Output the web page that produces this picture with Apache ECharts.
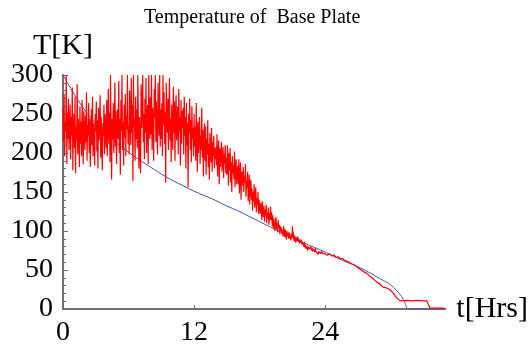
<!DOCTYPE html>
<html>
<head>
<meta charset="utf-8">
<script src="https://cdn.jsdelivr.net/npm/echarts@6/dist/echarts.min.js"></script>
<style>
html,body{margin:0;padding:0;background:#fff;}
#c{width:531px;height:349px;}
</style>
</head>
<body>
<div id="c"></div>
<script>
// ---- data ----
const titleText = "Temperature of  Base Plate";
const xName = "t[Hrs]";
const yName = "T[K]";
const xTicks = [0, 12, 24];
const yTicks = [0, 50, 100, 150, 200, 250, 300];

// model curve (blue): times and temperatures
const modelT = [0, 1, 2, 3, 4, 5, 6, 7, 8, 9, 10, 11, 12, 13, 14, 15, 16, 17, 18, 19, 20, 21, 22, 23, 24, 25, 26, 27, 28, 29, 30, 30.5, 31, 31.3, 31.6, 35];
const modelK = [300, 276, 255, 238, 224, 212, 201, 191, 182, 173, 165, 158, 151, 145, 139, 132, 126, 119, 112, 105, 98, 91, 85, 79, 73, 66, 60, 54, 47, 39, 31, 24, 16, 8, 0, 0];

// measured (red), noisy part sampled every 0.05 h from t = 0 (one row per hour)
const measStep = 0.05;
const measNoisy = [
  258, 214, 276, 196, 240, 228, 300, 186, 252, 218, 270, 204, 236, 262, 192, 246, 222, 284, 178, 232,
  250, 206, 272, 174, 234, 216, 288, 198, 244, 226, 182, 260, 212, 240, 196, 268, 220, 186, 254, 230,
  204, 248, 214, 278, 190, 236, 222, 264, 200, 244, 182, 226, 256, 210, 272, 196, 238, 218, 184, 250,
  228, 266, 202, 242, 180, 258, 216, 234, 274, 194, 246, 210, 178, 238, 222, 262, 198, 250, 230, 206,
  268, 196, 240, 282, 212, 252, 188, 300, 228, 166, 244, 218, 264, 200, 236, 290, 208, 254, 186, 232,
  256, 218, 292, 200, 244, 172, 268, 228, 300, 204, 240, 184, 262, 220, 276, 196, 248, 230, 300, 212,
  236, 198, 280, 252, 210, 296, 226, 262, 164, 300, 232, 244, 190, 272, 218, 256, 206, 300, 238, 180,
  246, 208, 174, 288, 232, 258, 300, 214, 250, 192, 270, 226, 296, 200, 244, 262, 186, 300, 234, 218,
  272, 224, 300, 204, 258, 240, 190, 282, 246, 300, 214, 266, 232, 198, 290, 250, 222, 300, 208, 256,
  218, 264, 196, 300, 236, 278, 212, 252, 162, 290, 240, 226, 270, 204, 258, 296, 216, 244, 188, 262,
  240, 204, 285, 226, 266, 190, 250, 274, 216, 236, 260, 198, 282, 228, 246, 184, 268, 212, 254, 232,
  258, 198, 272, 222, 246, 180, 264, 210, 238, 156, 250, 226, 270, 204, 242, 188, 260, 218, 232, 196,
  250, 208, 234, 190, 264, 214, 176, 240, 200, 228, 246, 186, 222, 204, 258, 194, 230, 170, 216, 238,
  190, 234, 172, 218, 198, 242, 182, 212, 166, 226, 204, 188, 232, 176, 214, 196, 222, 180, 206, 192,
  208, 184, 224, 170, 200, 216, 160, 206, 182, 196, 214, 176, 192, 208, 168, 198, 186, 210, 174, 194,
  172, 210, 188, 158, 200, 178, 206, 162, 188, 150, 196, 174, 184, 166, 202, 156, 180, 192, 160, 176,
  184, 160, 192, 148, 174, 188, 140, 176, 158, 168, 182, 150, 170, 162, 186, 144, 164, 156, 176, 138,
  152, 172, 134, 160, 166, 140, 154, 126, 150, 138, 160, 130, 146, 156, 124, 142, 134, 150, 122, 140,
  142, 122, 136, 128, 114, 138, 124, 118, 132, 112, 128, 120, 134, 110, 124, 116, 130, 108, 122, 114,
  131, 114, 124, 106, 120, 104, 116, 108, 100, 112, 118, 102, 110, 98, 114, 104, 108, 96, 106, 100,
  104, 96, 101, 93, 106, 98, 92, 102, 95, 89, 100, 94, 97, 90, 99, 93, 95, 88, 96, 91,
  106, 92, 98, 87, 94, 90, 85, 92, 87, 89, 93, 86, 90, 84, 88, 85, 89, 83, 86, 84,
  84, 80, 86, 79, 82, 77, 81, 78, 75, 80, 82, 77, 79, 76, 80, 75, 78, 74, 77, 76,
  76, 73, 78, 74, 72, 75, 73, 70, 74, 72, 75, 71, 73, 70, 74, 71, 72, 69, 73, 71
];
// measured (red), smoother tail: times and temperatures
const measTailT = [24.0, 24.2, 24.4, 24.6, 24.8, 25.0, 25.2, 25.4, 25.6, 25.8, 26.0, 26.2, 26.4, 26.6, 26.8, 27.0, 27.2, 27.4, 27.6, 27.8, 28.0, 28.3, 28.6, 29.0, 29.3, 29.6, 29.9, 30.2, 30.5, 30.8, 31.0, 31.5, 32.0, 32.5, 33.0, 33.3, 33.5, 33.6, 34.2, 34.9];
const measTailK = [71, 69, 71, 68, 69, 66, 67, 64, 65, 62, 61, 60, 58, 57, 55, 53, 51, 49, 47, 46, 43, 40, 36, 32, 28, 27, 25, 21, 15, 11, 10.5, 11, 10.5, 11, 10.5, 10.5, 4, 1.3, 1.3, 1.3];

// ---- build ----
const modelData = modelT.map((t, i) => [t, modelK[i]]);
const measData = measNoisy.map((v, i) => [+(i * measStep).toFixed(2), v])
  .concat(measTailT.map((t, i) => [t, measTailK[i]]));

const serif = "'Liberation Serif', 'Times New Roman', serif";
const axisGray = '#707070';

const chart = echarts.init(document.getElementById('c'), null, {renderer: 'canvas'});
chart.setOption({
  animation: false,
  backgroundColor: '#ffffff',
  title: {
    text: titleText,
    left: 139, top: 3,
    textStyle: {fontFamily: serif, fontSize: 20, fontWeight: 'normal', color: '#000'}
  },
  grid: {left: 63, top: 75, width: 383, height: 234, containLabel: false},
  xAxis: {
    type: 'value', min: 0, max: 35, interval: 12,
    name: xName, nameLocation: 'end', nameGap: 11,
    nameTextStyle: {fontFamily: serif, fontSize: 30, color: '#000', verticalAlign: 'middle'},
    axisLine: {lineStyle: {color: axisGray, width: 2}},
    axisTick: {inside: true, length: 4, lineStyle: {color: axisGray}, customValues: xTicks},
    axisLabel: {fontFamily: serif, fontSize: 28, color: '#000', margin: 10, customValues: xTicks},
    splitLine: {show: false}
  },
  yAxis: {
    type: 'value', min: 0, max: 300, interval: 50,
    name: yName, nameLocation: 'end', nameGap: 33,
    nameTextStyle: {fontFamily: serif, fontSize: 30, color: '#000', align: 'center', verticalAlign: 'top'},
    axisLine: {lineStyle: {color: axisGray, width: 2}},
    axisTick: {inside: true, length: 5, lineStyle: {color: axisGray}},
    minorTick: {show: true, splitNumber: 5, length: 3, lineStyle: {color: axisGray}},
    axisLabel: {fontFamily: serif, fontSize: 28, color: '#000', margin: 10, customValues: yTicks},
    splitLine: {show: false}, minorSplitLine: {show: false}
  },
  series: [
    {type: 'line', data: modelData, showSymbol: false, smooth: 0.3,
     lineStyle: {color: '#4d4db0', width: 1}, z: 2},
    {type: 'line', data: measData, showSymbol: false, sampling: null,
     lineStyle: {color: '#ff0000', width: 1.2}, z: 3}
  ]
});
</script>
</body>
</html>
